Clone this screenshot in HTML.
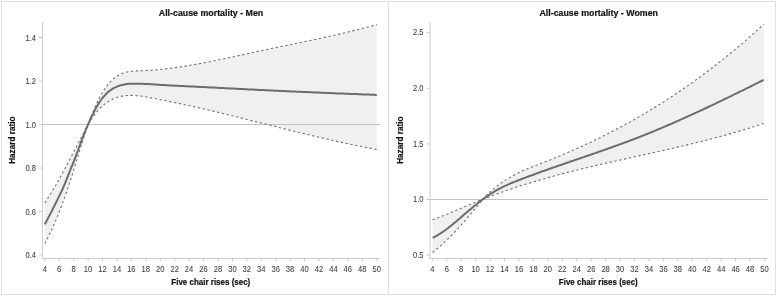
<!DOCTYPE html>
<html><head><meta charset="utf-8"><style>
html,body{margin:0;padding:0;background:#fff;}
body{width:777px;height:296px;overflow:hidden;}
svg{display:block;}
#w{width:777px;height:296px;will-change:transform;}
text{font-family:"Liberation Sans", sans-serif;}
.tk{font-size:8.8px;fill:#3c3c3c;stroke:#3c3c3c;stroke-width:0.06px;}
.ti{font-size:9.3px;font-weight:bold;fill:#111;stroke:#111;stroke-width:0.2px;}
.xl{font-size:8.4px;font-weight:bold;fill:#111;stroke:#111;stroke-width:0.2px;}
.yl{font-size:8.2px;}
</style></head><body>
<div id="w"><svg width="777" height="296" viewBox="0 0 777 296">
<rect x="1.5" y="1.5" width="774" height="293" fill="none" stroke="#e0e0e0" stroke-width="1"/>
<line x1="388.5" y1="1" x2="388.5" y2="295" stroke="#e0e0e0" stroke-width="1"/>
<path d="M44.8 202.8 L45.2 202.3 L45.5 201.7 L45.9 201.2 L46.3 200.7 L46.6 200.1 L47.0 199.5 L47.4 199.0 L47.7 198.4 L48.1 197.9 L48.4 197.3 L48.8 196.7 L49.2 196.1 L49.5 195.6 L49.9 195.0 L50.3 194.4 L50.6 193.8 L51.0 193.2 L51.4 192.6 L51.7 192.0 L52.1 191.4 L52.5 190.8 L52.8 190.2 L53.2 189.6 L53.6 188.9 L53.9 188.3 L54.3 187.7 L54.6 187.1 L55.0 186.5 L55.4 185.8 L55.7 185.2 L56.1 184.6 L56.5 183.9 L56.8 183.3 L57.2 182.6 L57.6 182.0 L57.9 181.3 L58.3 180.7 L58.7 180.0 L59.0 179.4 L59.4 178.7 L59.8 178.1 L60.1 177.4 L60.5 176.7 L60.8 176.1 L61.2 175.4 L61.6 174.7 L61.9 174.1 L62.3 173.4 L62.7 172.7 L63.0 172.0 L63.4 171.4 L63.8 170.7 L64.1 170.0 L64.5 169.3 L64.9 168.6 L65.2 167.9 L65.6 167.3 L66.0 166.6 L66.3 165.9 L66.7 165.2 L67.0 164.5 L67.4 163.8 L67.8 163.1 L68.1 162.4 L68.5 161.7 L68.9 161.0 L69.2 160.3 L69.6 159.6 L70.0 158.9 L70.3 158.2 L70.7 157.5 L71.1 156.8 L71.4 156.1 L71.8 155.4 L72.2 154.7 L72.5 154.0 L72.9 153.3 L73.2 152.6 L73.6 151.9 L74.0 151.2 L74.3 150.5 L74.7 149.8 L75.1 149.1 L75.4 148.4 L75.8 147.7 L76.2 147.0 L76.5 146.3 L76.9 145.6 L77.3 144.9 L77.6 144.2 L78.0 143.5 L78.4 142.8 L78.7 142.1 L79.1 141.4 L79.4 140.7 L79.8 140.0 L80.2 139.3 L80.5 138.6 L80.9 137.9 L81.3 137.2 L81.6 136.5 L82.0 135.8 L82.4 135.1 L82.7 134.4 L83.1 133.7 L83.5 133.0 L83.8 132.3 L84.2 131.7 L84.6 131.0 L84.9 130.3 L85.3 129.6 L85.6 128.9 L86.0 128.2 L86.4 127.6 L86.7 126.9 L87.1 126.2 L87.5 125.5 L87.8 124.9 L88.2 124.2 L90.6 117.7 L93.1 111.6 L95.5 106.0 L97.9 100.8 L100.3 96.2 L102.8 91.9 L105.2 88.2 L107.6 84.9 L110.0 82.1 L112.5 79.7 L114.9 77.6 L117.3 76.0 L119.7 74.6 L122.2 73.5 L124.6 72.6 L127.0 72.0 L129.4 71.5 L131.9 71.2 L134.3 71.0 L136.7 70.9 L139.1 70.8 L141.6 70.7 L144.0 70.6 L146.4 70.5 L148.8 70.3 L151.3 70.2 L153.7 70.0 L156.1 69.8 L158.5 69.6 L161.0 69.3 L163.4 69.1 L165.8 68.8 L168.2 68.5 L170.7 68.2 L173.1 67.9 L175.5 67.6 L177.9 67.2 L180.4 66.9 L182.8 66.5 L185.2 66.1 L187.6 65.7 L190.1 65.3 L192.5 64.9 L194.9 64.5 L197.3 64.1 L199.8 63.6 L202.2 63.2 L204.6 62.7 L207.0 62.2 L209.5 61.8 L211.9 61.3 L214.3 60.8 L216.7 60.3 L219.2 59.8 L221.6 59.3 L224.0 58.8 L226.4 58.2 L228.9 57.7 L231.3 57.2 L233.7 56.7 L236.1 56.2 L238.6 55.6 L241.0 55.1 L243.4 54.6 L245.8 54.0 L248.3 53.5 L250.7 53.0 L253.1 52.4 L255.5 51.9 L258.0 51.4 L260.4 50.9 L262.8 50.4 L265.2 49.8 L267.7 49.3 L270.1 48.8 L272.5 48.3 L274.9 47.8 L277.4 47.3 L279.8 46.8 L282.2 46.3 L284.6 45.8 L287.1 45.3 L289.5 44.8 L291.9 44.3 L294.3 43.8 L296.8 43.3 L299.2 42.8 L301.6 42.3 L304.0 41.8 L306.5 41.3 L308.9 40.8 L311.3 40.2 L313.7 39.7 L316.2 39.2 L318.6 38.7 L321.0 38.2 L323.4 37.6 L325.9 37.1 L328.3 36.6 L330.7 36.0 L333.1 35.5 L335.6 34.9 L338.0 34.4 L340.4 33.8 L342.8 33.3 L345.3 32.7 L347.7 32.1 L350.1 31.5 L352.5 30.9 L355.0 30.3 L357.4 29.7 L359.8 29.1 L362.2 28.5 L364.7 27.9 L367.1 27.2 L369.5 26.6 L371.9 25.9 L374.4 25.3 L376.8 24.6 L376.8 149.5 L374.4 149.1 L371.9 148.6 L369.5 148.1 L367.1 147.7 L364.7 147.2 L362.2 146.7 L359.8 146.2 L357.4 145.7 L355.0 145.2 L352.5 144.7 L350.1 144.2 L347.7 143.7 L345.3 143.2 L342.8 142.6 L340.4 142.1 L338.0 141.6 L335.6 141.0 L333.1 140.5 L330.7 139.9 L328.3 139.4 L325.9 138.8 L323.4 138.3 L321.0 137.7 L318.6 137.1 L316.2 136.5 L313.7 136.0 L311.3 135.4 L308.9 134.8 L306.5 134.2 L304.0 133.6 L301.6 133.0 L299.2 132.5 L296.8 131.9 L294.3 131.3 L291.9 130.7 L289.5 130.1 L287.1 129.5 L284.6 128.9 L282.2 128.3 L279.8 127.7 L277.4 127.1 L274.9 126.4 L272.5 125.8 L270.1 125.2 L267.7 124.6 L265.2 124.0 L262.8 123.4 L260.4 122.8 L258.0 122.2 L255.5 121.6 L253.1 121.0 L250.7 120.4 L248.3 119.8 L245.8 119.2 L243.4 118.5 L241.0 117.9 L238.6 117.3 L236.1 116.7 L233.7 116.1 L231.3 115.5 L228.9 115.0 L226.4 114.4 L224.0 113.8 L221.6 113.2 L219.2 112.6 L216.7 112.0 L214.3 111.4 L211.9 110.9 L209.5 110.3 L207.0 109.7 L204.6 109.2 L202.2 108.6 L199.8 108.0 L197.3 107.5 L194.9 106.9 L192.5 106.4 L190.1 105.8 L187.6 105.3 L185.2 104.8 L182.8 104.2 L180.4 103.7 L177.9 103.2 L175.5 102.7 L173.1 102.2 L170.7 101.7 L168.2 101.2 L165.8 100.7 L163.4 100.2 L161.0 99.7 L158.5 99.2 L156.1 98.8 L153.7 98.3 L151.3 97.9 L148.8 97.4 L146.4 97.0 L144.0 96.6 L141.6 96.2 L139.1 95.9 L136.7 95.7 L134.3 95.5 L131.9 95.4 L129.4 95.4 L127.0 95.5 L124.6 95.7 L122.2 96.1 L119.7 96.6 L117.3 97.3 L114.9 98.1 L112.5 99.2 L110.0 100.5 L107.6 102.0 L105.2 103.7 L102.8 105.7 L100.3 108.0 L97.9 110.6 L95.5 113.5 L93.1 116.7 L90.6 120.3 L88.2 124.2 L87.8 125.2 L87.5 126.3 L87.1 127.3 L86.7 128.4 L86.4 129.4 L86.0 130.5 L85.6 131.6 L85.3 132.7 L84.9 133.8 L84.6 134.9 L84.2 136.0 L83.8 137.2 L83.5 138.3 L83.1 139.5 L82.7 140.6 L82.4 141.8 L82.0 142.9 L81.6 144.1 L81.3 145.3 L80.9 146.5 L80.5 147.6 L80.2 148.8 L79.8 150.0 L79.4 151.2 L79.1 152.4 L78.7 153.6 L78.4 154.8 L78.0 156.0 L77.6 157.2 L77.3 158.4 L76.9 159.6 L76.5 160.8 L76.2 162.0 L75.8 163.2 L75.4 164.4 L75.1 165.6 L74.7 166.8 L74.3 168.0 L74.0 169.1 L73.6 170.3 L73.2 171.5 L72.9 172.7 L72.5 173.8 L72.2 175.0 L71.8 176.2 L71.4 177.3 L71.1 178.4 L70.7 179.6 L70.3 180.7 L70.0 181.8 L69.6 182.9 L69.2 184.1 L68.9 185.2 L68.5 186.3 L68.1 187.3 L67.8 188.4 L67.4 189.5 L67.0 190.6 L66.7 191.6 L66.3 192.7 L66.0 193.7 L65.6 194.8 L65.2 195.8 L64.9 196.9 L64.5 197.9 L64.1 198.9 L63.8 199.9 L63.4 200.9 L63.0 201.9 L62.7 202.9 L62.3 203.9 L61.9 204.9 L61.6 205.8 L61.2 206.8 L60.8 207.8 L60.5 208.7 L60.1 209.7 L59.8 210.6 L59.4 211.5 L59.0 212.5 L58.7 213.4 L58.3 214.3 L57.9 215.2 L57.6 216.1 L57.2 217.0 L56.8 217.9 L56.5 218.8 L56.1 219.6 L55.7 220.5 L55.4 221.4 L55.0 222.2 L54.6 223.1 L54.3 223.9 L53.9 224.8 L53.6 225.6 L53.2 226.4 L52.8 227.2 L52.5 228.0 L52.1 228.8 L51.7 229.6 L51.4 230.4 L51.0 231.2 L50.6 232.0 L50.3 232.8 L49.9 233.5 L49.5 234.3 L49.2 235.0 L48.8 235.8 L48.4 236.5 L48.1 237.2 L47.7 238.0 L47.4 238.7 L47.0 239.4 L46.6 240.1 L46.3 240.8 L45.9 241.5 L45.5 242.2 L45.2 242.9 L44.8 243.6 Z" fill="#f0f0f0" stroke="none"/>
<line x1="42" y1="124.5" x2="380" y2="124.5" stroke="#c2c2c2" stroke-width="1"/>
<path d="M44.8 202.8 L45.2 202.3 L45.5 201.7 L45.9 201.2 L46.3 200.7 L46.6 200.1 L47.0 199.5 L47.4 199.0 L47.7 198.4 L48.1 197.9 L48.4 197.3 L48.8 196.7 L49.2 196.1 L49.5 195.6 L49.9 195.0 L50.3 194.4 L50.6 193.8 L51.0 193.2 L51.4 192.6 L51.7 192.0 L52.1 191.4 L52.5 190.8 L52.8 190.2 L53.2 189.6 L53.6 188.9 L53.9 188.3 L54.3 187.7 L54.6 187.1 L55.0 186.5 L55.4 185.8 L55.7 185.2 L56.1 184.6 L56.5 183.9 L56.8 183.3 L57.2 182.6 L57.6 182.0 L57.9 181.3 L58.3 180.7 L58.7 180.0 L59.0 179.4 L59.4 178.7 L59.8 178.1 L60.1 177.4 L60.5 176.7 L60.8 176.1 L61.2 175.4 L61.6 174.7 L61.9 174.1 L62.3 173.4 L62.7 172.7 L63.0 172.0 L63.4 171.4 L63.8 170.7 L64.1 170.0 L64.5 169.3 L64.9 168.6 L65.2 167.9 L65.6 167.3 L66.0 166.6 L66.3 165.9 L66.7 165.2 L67.0 164.5 L67.4 163.8 L67.8 163.1 L68.1 162.4 L68.5 161.7 L68.9 161.0 L69.2 160.3 L69.6 159.6 L70.0 158.9 L70.3 158.2 L70.7 157.5 L71.1 156.8 L71.4 156.1 L71.8 155.4 L72.2 154.7 L72.5 154.0 L72.9 153.3 L73.2 152.6 L73.6 151.9 L74.0 151.2 L74.3 150.5 L74.7 149.8 L75.1 149.1 L75.4 148.4 L75.8 147.7 L76.2 147.0 L76.5 146.3 L76.9 145.6 L77.3 144.9 L77.6 144.2 L78.0 143.5 L78.4 142.8 L78.7 142.1 L79.1 141.4 L79.4 140.7 L79.8 140.0 L80.2 139.3 L80.5 138.6 L80.9 137.9 L81.3 137.2 L81.6 136.5 L82.0 135.8 L82.4 135.1 L82.7 134.4 L83.1 133.7 L83.5 133.0 L83.8 132.3 L84.2 131.7 L84.6 131.0 L84.9 130.3 L85.3 129.6 L85.6 128.9 L86.0 128.2 L86.4 127.6 L86.7 126.9 L87.1 126.2 L87.5 125.5 L87.8 124.9 L88.2 124.2 L90.6 117.7 L93.1 111.6 L95.5 106.0 L97.9 100.8 L100.3 96.2 L102.8 91.9 L105.2 88.2 L107.6 84.9 L110.0 82.1 L112.5 79.7 L114.9 77.6 L117.3 76.0 L119.7 74.6 L122.2 73.5 L124.6 72.6 L127.0 72.0 L129.4 71.5 L131.9 71.2 L134.3 71.0 L136.7 70.9 L139.1 70.8 L141.6 70.7 L144.0 70.6 L146.4 70.5 L148.8 70.3 L151.3 70.2 L153.7 70.0 L156.1 69.8 L158.5 69.6 L161.0 69.3 L163.4 69.1 L165.8 68.8 L168.2 68.5 L170.7 68.2 L173.1 67.9 L175.5 67.6 L177.9 67.2 L180.4 66.9 L182.8 66.5 L185.2 66.1 L187.6 65.7 L190.1 65.3 L192.5 64.9 L194.9 64.5 L197.3 64.1 L199.8 63.6 L202.2 63.2 L204.6 62.7 L207.0 62.2 L209.5 61.8 L211.9 61.3 L214.3 60.8 L216.7 60.3 L219.2 59.8 L221.6 59.3 L224.0 58.8 L226.4 58.2 L228.9 57.7 L231.3 57.2 L233.7 56.7 L236.1 56.2 L238.6 55.6 L241.0 55.1 L243.4 54.6 L245.8 54.0 L248.3 53.5 L250.7 53.0 L253.1 52.4 L255.5 51.9 L258.0 51.4 L260.4 50.9 L262.8 50.4 L265.2 49.8 L267.7 49.3 L270.1 48.8 L272.5 48.3 L274.9 47.8 L277.4 47.3 L279.8 46.8 L282.2 46.3 L284.6 45.8 L287.1 45.3 L289.5 44.8 L291.9 44.3 L294.3 43.8 L296.8 43.3 L299.2 42.8 L301.6 42.3 L304.0 41.8 L306.5 41.3 L308.9 40.8 L311.3 40.2 L313.7 39.7 L316.2 39.2 L318.6 38.7 L321.0 38.2 L323.4 37.6 L325.9 37.1 L328.3 36.6 L330.7 36.0 L333.1 35.5 L335.6 34.9 L338.0 34.4 L340.4 33.8 L342.8 33.3 L345.3 32.7 L347.7 32.1 L350.1 31.5 L352.5 30.9 L355.0 30.3 L357.4 29.7 L359.8 29.1 L362.2 28.5 L364.7 27.9 L367.1 27.2 L369.5 26.6 L371.9 25.9 L374.4 25.3 L376.8 24.6" fill="none" stroke="#6e6e6e" stroke-width="1.1" stroke-dasharray="2.3 2.6"/>
<path d="M44.8 243.6 L45.2 242.9 L45.5 242.2 L45.9 241.5 L46.3 240.8 L46.6 240.1 L47.0 239.4 L47.4 238.7 L47.7 238.0 L48.1 237.2 L48.4 236.5 L48.8 235.8 L49.2 235.0 L49.5 234.3 L49.9 233.5 L50.3 232.8 L50.6 232.0 L51.0 231.2 L51.4 230.4 L51.7 229.6 L52.1 228.8 L52.5 228.0 L52.8 227.2 L53.2 226.4 L53.6 225.6 L53.9 224.8 L54.3 223.9 L54.6 223.1 L55.0 222.2 L55.4 221.4 L55.7 220.5 L56.1 219.6 L56.5 218.8 L56.8 217.9 L57.2 217.0 L57.6 216.1 L57.9 215.2 L58.3 214.3 L58.7 213.4 L59.0 212.5 L59.4 211.5 L59.8 210.6 L60.1 209.7 L60.5 208.7 L60.8 207.8 L61.2 206.8 L61.6 205.8 L61.9 204.9 L62.3 203.9 L62.7 202.9 L63.0 201.9 L63.4 200.9 L63.8 199.9 L64.1 198.9 L64.5 197.9 L64.9 196.9 L65.2 195.8 L65.6 194.8 L66.0 193.7 L66.3 192.7 L66.7 191.6 L67.0 190.6 L67.4 189.5 L67.8 188.4 L68.1 187.3 L68.5 186.3 L68.9 185.2 L69.2 184.1 L69.6 182.9 L70.0 181.8 L70.3 180.7 L70.7 179.6 L71.1 178.4 L71.4 177.3 L71.8 176.2 L72.2 175.0 L72.5 173.8 L72.9 172.7 L73.2 171.5 L73.6 170.3 L74.0 169.1 L74.3 168.0 L74.7 166.8 L75.1 165.6 L75.4 164.4 L75.8 163.2 L76.2 162.0 L76.5 160.8 L76.9 159.6 L77.3 158.4 L77.6 157.2 L78.0 156.0 L78.4 154.8 L78.7 153.6 L79.1 152.4 L79.4 151.2 L79.8 150.0 L80.2 148.8 L80.5 147.6 L80.9 146.5 L81.3 145.3 L81.6 144.1 L82.0 142.9 L82.4 141.8 L82.7 140.6 L83.1 139.5 L83.5 138.3 L83.8 137.2 L84.2 136.0 L84.6 134.9 L84.9 133.8 L85.3 132.7 L85.6 131.6 L86.0 130.5 L86.4 129.4 L86.7 128.4 L87.1 127.3 L87.5 126.3 L87.8 125.2 L88.2 124.2 L90.6 120.3 L93.1 116.7 L95.5 113.5 L97.9 110.6 L100.3 108.0 L102.8 105.7 L105.2 103.7 L107.6 102.0 L110.0 100.5 L112.5 99.2 L114.9 98.1 L117.3 97.3 L119.7 96.6 L122.2 96.1 L124.6 95.7 L127.0 95.5 L129.4 95.4 L131.9 95.4 L134.3 95.5 L136.7 95.7 L139.1 95.9 L141.6 96.2 L144.0 96.6 L146.4 97.0 L148.8 97.4 L151.3 97.9 L153.7 98.3 L156.1 98.8 L158.5 99.2 L161.0 99.7 L163.4 100.2 L165.8 100.7 L168.2 101.2 L170.7 101.7 L173.1 102.2 L175.5 102.7 L177.9 103.2 L180.4 103.7 L182.8 104.2 L185.2 104.8 L187.6 105.3 L190.1 105.8 L192.5 106.4 L194.9 106.9 L197.3 107.5 L199.8 108.0 L202.2 108.6 L204.6 109.2 L207.0 109.7 L209.5 110.3 L211.9 110.9 L214.3 111.4 L216.7 112.0 L219.2 112.6 L221.6 113.2 L224.0 113.8 L226.4 114.4 L228.9 115.0 L231.3 115.5 L233.7 116.1 L236.1 116.7 L238.6 117.3 L241.0 117.9 L243.4 118.5 L245.8 119.2 L248.3 119.8 L250.7 120.4 L253.1 121.0 L255.5 121.6 L258.0 122.2 L260.4 122.8 L262.8 123.4 L265.2 124.0 L267.7 124.6 L270.1 125.2 L272.5 125.8 L274.9 126.4 L277.4 127.1 L279.8 127.7 L282.2 128.3 L284.6 128.9 L287.1 129.5 L289.5 130.1 L291.9 130.7 L294.3 131.3 L296.8 131.9 L299.2 132.5 L301.6 133.0 L304.0 133.6 L306.5 134.2 L308.9 134.8 L311.3 135.4 L313.7 136.0 L316.2 136.5 L318.6 137.1 L321.0 137.7 L323.4 138.3 L325.9 138.8 L328.3 139.4 L330.7 139.9 L333.1 140.5 L335.6 141.0 L338.0 141.6 L340.4 142.1 L342.8 142.6 L345.3 143.2 L347.7 143.7 L350.1 144.2 L352.5 144.7 L355.0 145.2 L357.4 145.7 L359.8 146.2 L362.2 146.7 L364.7 147.2 L367.1 147.7 L369.5 148.1 L371.9 148.6 L374.4 149.1 L376.8 149.5" fill="none" stroke="#6e6e6e" stroke-width="1.1" stroke-dasharray="2.3 2.6"/>
<path d="M44.8 224.4 L45.9 222.3 L47.0 220.2 L48.1 218.1 L49.2 215.9 L50.4 213.8 L51.5 211.6 L52.6 209.4 L53.7 207.2 L54.8 205.0 L55.9 202.8 L57.0 200.6 L58.1 198.4 L59.2 196.1 L60.3 193.8 L61.5 191.4 L62.6 189.0 L63.7 186.4 L64.8 183.8 L65.9 181.1 L67.0 178.4 L68.1 175.7 L69.2 172.9 L70.3 170.0 L71.4 167.2 L72.6 164.4 L73.7 161.6 L74.8 158.8 L75.9 155.9 L77.0 153.0 L78.1 150.0 L79.2 147.0 L80.3 144.0 L81.4 141.0 L82.6 138.0 L83.7 135.1 L84.8 132.3 L85.9 129.5 L87.0 126.9 L88.1 124.4 L89.2 122.0 L90.3 119.6 L91.4 117.2 L92.5 114.9 L93.7 112.6 L94.8 110.4 L95.9 108.3 L97.0 106.3 L98.1 104.4 L99.2 102.6 L100.3 101.0 L101.4 99.5 L102.5 98.0 L103.6 96.7 L104.8 95.4 L105.9 94.2 L107.0 93.0 L108.1 92.0 L109.2 91.1 L110.3 90.3 L111.4 89.6 L112.5 88.9 L113.6 88.2 L114.8 87.6 L115.9 87.1 L117.0 86.6 L118.1 86.1 L119.2 85.7 L120.3 85.4 L121.4 85.1 L122.5 84.9 L123.6 84.7 L124.7 84.5 L125.9 84.3 L127.0 84.1 L128.1 84.0 L129.2 83.8 L130.3 83.8 L131.4 83.7 L132.5 83.7 L133.6 83.7 L134.7 83.7 L135.9 83.7 L137.0 83.7 L138.1 83.8 L139.2 83.8 L140.3 83.8 L141.4 83.8 L142.5 83.8 L143.6 83.9 L144.7 83.9 L145.8 83.9 L147.0 84.0 L148.1 84.0 L149.2 84.1 L150.3 84.2 L151.4 84.2 L152.5 84.3 L153.6 84.4 L154.7 84.5 L155.8 84.6 L156.9 84.7 L158.1 84.7 L159.2 84.8 L160.3 84.9 L161.4 84.9 L162.5 85.0 L163.6 85.1 L164.7 85.1 L165.8 85.2 L166.9 85.3 L168.1 85.3 L169.2 85.4 L170.3 85.4 L171.4 85.5 L172.5 85.5 L173.6 85.6 L174.7 85.7 L175.8 85.7 L176.9 85.8 L178.0 85.8 L179.2 85.9 L180.3 85.9 L181.4 86.0 L182.5 86.0 L183.6 86.1 L184.7 86.2 L185.8 86.2 L186.9 86.3 L188.0 86.3 L189.1 86.4 L190.3 86.4 L191.4 86.5 L192.5 86.5 L193.6 86.6 L194.7 86.6 L195.8 86.7 L196.9 86.7 L198.0 86.8 L199.1 86.9 L200.3 86.9 L201.4 87.0 L202.5 87.0 L203.6 87.1 L204.7 87.1 L205.8 87.2 L206.9 87.3 L208.0 87.3 L209.1 87.4 L210.2 87.4 L211.4 87.5 L212.5 87.5 L213.6 87.6 L214.7 87.6 L215.8 87.7 L216.9 87.8 L218.0 87.8 L219.1 87.9 L220.2 87.9 L221.3 88.0 L222.5 88.0 L223.6 88.1 L224.7 88.2 L225.8 88.2 L226.9 88.3 L228.0 88.3 L229.1 88.4 L230.2 88.4 L231.3 88.5 L232.5 88.6 L233.6 88.6 L234.7 88.7 L235.8 88.7 L236.9 88.8 L238.0 88.8 L239.1 88.9 L240.2 89.0 L241.3 89.0 L242.4 89.1 L243.6 89.1 L244.7 89.2 L245.8 89.2 L246.9 89.3 L248.0 89.4 L249.1 89.4 L250.2 89.5 L251.3 89.5 L252.4 89.6 L253.5 89.6 L254.7 89.7 L255.8 89.7 L256.9 89.8 L258.0 89.9 L259.1 89.9 L260.2 90.0 L261.3 90.0 L262.4 90.1 L263.5 90.1 L264.7 90.2 L265.8 90.2 L266.9 90.3 L268.0 90.3 L269.1 90.4 L270.2 90.4 L271.3 90.5 L272.4 90.6 L273.5 90.6 L274.6 90.7 L275.8 90.7 L276.9 90.8 L278.0 90.8 L279.1 90.9 L280.2 90.9 L281.3 91.0 L282.4 91.0 L283.5 91.1 L284.6 91.1 L285.7 91.2 L286.9 91.2 L288.0 91.3 L289.1 91.3 L290.2 91.4 L291.3 91.4 L292.4 91.5 L293.5 91.5 L294.6 91.6 L295.7 91.6 L296.9 91.7 L298.0 91.7 L299.1 91.8 L300.2 91.8 L301.3 91.8 L302.4 91.9 L303.5 91.9 L304.6 92.0 L305.7 92.0 L306.8 92.1 L308.0 92.1 L309.1 92.2 L310.2 92.2 L311.3 92.3 L312.4 92.3 L313.5 92.4 L314.6 92.4 L315.7 92.5 L316.8 92.5 L318.0 92.6 L319.1 92.6 L320.2 92.7 L321.3 92.7 L322.4 92.8 L323.5 92.8 L324.6 92.8 L325.7 92.9 L326.8 92.9 L327.9 93.0 L329.1 93.0 L330.2 93.1 L331.3 93.1 L332.4 93.2 L333.5 93.2 L334.6 93.3 L335.7 93.3 L336.8 93.4 L337.9 93.4 L339.0 93.4 L340.2 93.5 L341.3 93.5 L342.4 93.6 L343.5 93.6 L344.6 93.7 L345.7 93.7 L346.8 93.8 L347.9 93.8 L349.0 93.8 L350.2 93.9 L351.3 93.9 L352.4 94.0 L353.5 94.0 L354.6 94.1 L355.7 94.1 L356.8 94.1 L357.9 94.2 L359.0 94.2 L360.1 94.3 L361.3 94.3 L362.4 94.4 L363.5 94.4 L364.6 94.4 L365.7 94.5 L366.8 94.5 L367.9 94.6 L369.0 94.6 L370.1 94.7 L371.2 94.7 L372.4 94.7 L373.5 94.8 L374.6 94.8 L375.7 94.9 L376.8 94.9" fill="none" stroke="#6c6c6c" stroke-width="2.0" stroke-linejoin="round"/>
<line x1="42.5" y1="22" x2="42.5" y2="259" stroke="#cbccd0" stroke-width="1"/>
<line x1="42" y1="258.5" x2="380" y2="258.5" stroke="#cbccd0" stroke-width="1"/>
<line x1="44.80" y1="259" x2="44.80" y2="261.5" stroke="#cbccd0" stroke-width="1"/>
<text transform="translate(44.80,271.8) scale(0.865,1)" text-anchor="middle" class="tk">4</text>
<line x1="59.23" y1="259" x2="59.23" y2="261.5" stroke="#cbccd0" stroke-width="1"/>
<text transform="translate(59.23,271.8) scale(0.865,1)" text-anchor="middle" class="tk">6</text>
<line x1="73.66" y1="259" x2="73.66" y2="261.5" stroke="#cbccd0" stroke-width="1"/>
<text transform="translate(73.66,271.8) scale(0.865,1)" text-anchor="middle" class="tk">8</text>
<line x1="88.09" y1="259" x2="88.09" y2="261.5" stroke="#cbccd0" stroke-width="1"/>
<text transform="translate(88.09,271.8) scale(0.865,1)" text-anchor="middle" class="tk">10</text>
<line x1="102.52" y1="259" x2="102.52" y2="261.5" stroke="#cbccd0" stroke-width="1"/>
<text transform="translate(102.52,271.8) scale(0.865,1)" text-anchor="middle" class="tk">12</text>
<line x1="116.95" y1="259" x2="116.95" y2="261.5" stroke="#cbccd0" stroke-width="1"/>
<text transform="translate(116.95,271.8) scale(0.865,1)" text-anchor="middle" class="tk">14</text>
<line x1="131.38" y1="259" x2="131.38" y2="261.5" stroke="#cbccd0" stroke-width="1"/>
<text transform="translate(131.38,271.8) scale(0.865,1)" text-anchor="middle" class="tk">16</text>
<line x1="145.81" y1="259" x2="145.81" y2="261.5" stroke="#cbccd0" stroke-width="1"/>
<text transform="translate(145.81,271.8) scale(0.865,1)" text-anchor="middle" class="tk">18</text>
<line x1="160.24" y1="259" x2="160.24" y2="261.5" stroke="#cbccd0" stroke-width="1"/>
<text transform="translate(160.24,271.8) scale(0.865,1)" text-anchor="middle" class="tk">20</text>
<line x1="174.67" y1="259" x2="174.67" y2="261.5" stroke="#cbccd0" stroke-width="1"/>
<text transform="translate(174.67,271.8) scale(0.865,1)" text-anchor="middle" class="tk">22</text>
<line x1="189.10" y1="259" x2="189.10" y2="261.5" stroke="#cbccd0" stroke-width="1"/>
<text transform="translate(189.10,271.8) scale(0.865,1)" text-anchor="middle" class="tk">24</text>
<line x1="203.53" y1="259" x2="203.53" y2="261.5" stroke="#cbccd0" stroke-width="1"/>
<text transform="translate(203.53,271.8) scale(0.865,1)" text-anchor="middle" class="tk">26</text>
<line x1="217.96" y1="259" x2="217.96" y2="261.5" stroke="#cbccd0" stroke-width="1"/>
<text transform="translate(217.96,271.8) scale(0.865,1)" text-anchor="middle" class="tk">28</text>
<line x1="232.39" y1="259" x2="232.39" y2="261.5" stroke="#cbccd0" stroke-width="1"/>
<text transform="translate(232.39,271.8) scale(0.865,1)" text-anchor="middle" class="tk">30</text>
<line x1="246.82" y1="259" x2="246.82" y2="261.5" stroke="#cbccd0" stroke-width="1"/>
<text transform="translate(246.82,271.8) scale(0.865,1)" text-anchor="middle" class="tk">32</text>
<line x1="261.25" y1="259" x2="261.25" y2="261.5" stroke="#cbccd0" stroke-width="1"/>
<text transform="translate(261.25,271.8) scale(0.865,1)" text-anchor="middle" class="tk">34</text>
<line x1="275.68" y1="259" x2="275.68" y2="261.5" stroke="#cbccd0" stroke-width="1"/>
<text transform="translate(275.68,271.8) scale(0.865,1)" text-anchor="middle" class="tk">36</text>
<line x1="290.11" y1="259" x2="290.11" y2="261.5" stroke="#cbccd0" stroke-width="1"/>
<text transform="translate(290.11,271.8) scale(0.865,1)" text-anchor="middle" class="tk">38</text>
<line x1="304.54" y1="259" x2="304.54" y2="261.5" stroke="#cbccd0" stroke-width="1"/>
<text transform="translate(304.54,271.8) scale(0.865,1)" text-anchor="middle" class="tk">40</text>
<line x1="318.97" y1="259" x2="318.97" y2="261.5" stroke="#cbccd0" stroke-width="1"/>
<text transform="translate(318.97,271.8) scale(0.865,1)" text-anchor="middle" class="tk">42</text>
<line x1="333.40" y1="259" x2="333.40" y2="261.5" stroke="#cbccd0" stroke-width="1"/>
<text transform="translate(333.40,271.8) scale(0.865,1)" text-anchor="middle" class="tk">44</text>
<line x1="347.83" y1="259" x2="347.83" y2="261.5" stroke="#cbccd0" stroke-width="1"/>
<text transform="translate(347.83,271.8) scale(0.865,1)" text-anchor="middle" class="tk">46</text>
<line x1="362.26" y1="259" x2="362.26" y2="261.5" stroke="#cbccd0" stroke-width="1"/>
<text transform="translate(362.26,271.8) scale(0.865,1)" text-anchor="middle" class="tk">48</text>
<line x1="376.69" y1="259" x2="376.69" y2="261.5" stroke="#cbccd0" stroke-width="1"/>
<text transform="translate(376.69,271.8) scale(0.865,1)" text-anchor="middle" class="tk">50</text>
<line x1="39" y1="255.00" x2="42" y2="255.00" stroke="#cbccd0" stroke-width="1"/>
<text transform="translate(36,258.30) scale(0.865,1)" text-anchor="end" class="tk">0.4</text>
<line x1="39" y1="211.50" x2="42" y2="211.50" stroke="#cbccd0" stroke-width="1"/>
<text transform="translate(36,214.80) scale(0.865,1)" text-anchor="end" class="tk">0.6</text>
<line x1="39" y1="168.00" x2="42" y2="168.00" stroke="#cbccd0" stroke-width="1"/>
<text transform="translate(36,171.30) scale(0.865,1)" text-anchor="end" class="tk">0.8</text>
<line x1="39" y1="124.50" x2="42" y2="124.50" stroke="#cbccd0" stroke-width="1"/>
<text transform="translate(36,127.80) scale(0.865,1)" text-anchor="end" class="tk">1.0</text>
<line x1="39" y1="81.00" x2="42" y2="81.00" stroke="#cbccd0" stroke-width="1"/>
<text transform="translate(36,84.30) scale(0.865,1)" text-anchor="end" class="tk">1.2</text>
<line x1="39" y1="37.50" x2="42" y2="37.50" stroke="#cbccd0" stroke-width="1"/>
<text transform="translate(36,40.80) scale(0.865,1)" text-anchor="end" class="tk">1.4</text>
<path d="M432.6 219.7 L433.0 219.5 L433.4 219.4 L433.9 219.2 L434.3 219.1 L434.7 218.9 L435.1 218.8 L435.6 218.6 L436.0 218.5 L436.4 218.3 L436.8 218.2 L437.2 218.0 L437.7 217.9 L438.1 217.7 L438.5 217.6 L438.9 217.4 L439.3 217.2 L439.8 217.1 L440.2 216.9 L440.6 216.8 L441.0 216.6 L441.5 216.4 L441.9 216.3 L442.3 216.1 L442.7 215.9 L443.1 215.8 L443.6 215.6 L444.0 215.4 L444.4 215.3 L444.8 215.1 L445.3 214.9 L445.7 214.7 L446.1 214.6 L446.5 214.4 L446.9 214.2 L447.4 214.1 L447.8 213.9 L448.2 213.7 L448.6 213.5 L449.1 213.4 L449.5 213.2 L449.9 213.0 L450.3 212.8 L450.7 212.7 L451.2 212.5 L451.6 212.3 L452.0 212.1 L452.4 212.0 L452.8 211.8 L453.3 211.6 L453.7 211.4 L454.1 211.2 L454.5 211.1 L455.0 210.9 L455.4 210.7 L455.8 210.5 L456.2 210.3 L456.6 210.2 L457.1 210.0 L457.5 209.8 L457.9 209.6 L458.3 209.4 L458.8 209.3 L459.2 209.1 L459.6 208.9 L460.0 208.7 L460.4 208.5 L460.9 208.3 L461.3 208.2 L461.7 208.0 L462.1 207.8 L462.6 207.6 L463.0 207.4 L463.4 207.3 L463.8 207.1 L464.2 206.9 L464.7 206.7 L465.1 206.5 L465.5 206.3 L465.9 206.2 L466.3 206.0 L466.8 205.8 L467.2 205.6 L467.6 205.4 L468.0 205.3 L468.5 205.1 L468.9 204.9 L469.3 204.7 L469.7 204.5 L470.1 204.4 L470.6 204.2 L471.0 204.0 L471.4 203.8 L471.8 203.6 L472.3 203.5 L472.7 203.3 L473.1 203.1 L473.5 202.9 L473.9 202.8 L474.4 202.6 L474.8 202.4 L475.2 202.2 L475.6 202.1 L476.1 201.9 L476.5 201.7 L476.9 201.5 L477.3 201.4 L477.7 201.2 L478.2 201.0 L478.6 200.9 L479.0 200.7 L479.4 200.5 L479.8 200.4 L480.3 200.2 L480.7 200.0 L481.1 199.9 L481.5 199.7 L482.0 199.5 L482.4 199.4 L482.8 199.2 L485.2 196.7 L487.5 194.4 L489.9 192.2 L492.2 190.1 L494.6 188.1 L497.0 186.2 L499.3 184.4 L501.7 182.7 L504.0 181.1 L506.4 179.6 L508.8 178.2 L511.1 176.8 L513.5 175.5 L515.8 174.2 L518.2 173.0 L520.6 171.9 L522.9 170.8 L525.3 169.8 L527.6 168.8 L530.0 167.8 L532.4 166.8 L534.7 165.9 L537.1 165.0 L539.5 164.0 L541.8 163.1 L544.2 162.2 L546.5 161.3 L548.9 160.3 L551.3 159.4 L553.6 158.5 L556.0 157.5 L558.3 156.5 L560.7 155.5 L563.1 154.6 L565.4 153.6 L567.8 152.5 L570.1 151.5 L572.5 150.5 L574.9 149.4 L577.2 148.4 L579.6 147.3 L581.9 146.3 L584.3 145.2 L586.7 144.1 L589.0 143.0 L591.4 141.9 L593.7 140.7 L596.1 139.6 L598.5 138.4 L600.8 137.3 L603.2 136.1 L605.5 134.9 L607.9 133.7 L610.3 132.5 L612.6 131.3 L615.0 130.1 L617.3 128.8 L619.7 127.6 L622.1 126.3 L624.4 125.0 L626.8 123.7 L629.2 122.4 L631.5 121.1 L633.9 119.8 L636.2 118.4 L638.6 117.1 L641.0 115.7 L643.3 114.3 L645.7 112.9 L648.0 111.5 L650.4 110.1 L652.8 108.6 L655.1 107.2 L657.5 105.7 L659.8 104.3 L662.2 102.8 L664.6 101.3 L666.9 99.7 L669.3 98.2 L671.6 96.7 L674.0 95.1 L676.4 93.5 L678.7 91.9 L681.1 90.3 L683.4 88.7 L685.8 87.1 L688.2 85.4 L690.5 83.8 L692.9 82.1 L695.2 80.4 L697.6 78.7 L700.0 77.0 L702.3 75.2 L704.7 73.5 L707.0 71.7 L709.4 69.9 L711.8 68.1 L714.1 66.3 L716.5 64.5 L718.9 62.6 L721.2 60.8 L723.6 58.9 L725.9 57.0 L728.3 55.1 L730.7 53.1 L733.0 51.2 L735.4 49.2 L737.7 47.3 L740.1 45.3 L742.5 43.3 L744.8 41.2 L747.2 39.2 L749.5 37.1 L751.9 35.0 L754.3 32.9 L756.6 30.8 L759.0 28.7 L761.3 26.5 L763.7 24.4 L763.7 123.4 L761.3 124.2 L759.0 125.0 L756.6 125.7 L754.3 126.5 L751.9 127.2 L749.5 128.0 L747.2 128.7 L744.8 129.4 L742.5 130.1 L740.1 130.9 L737.7 131.6 L735.4 132.2 L733.0 132.9 L730.7 133.6 L728.3 134.3 L725.9 134.9 L723.6 135.6 L721.2 136.2 L718.9 136.9 L716.5 137.5 L714.1 138.1 L711.8 138.7 L709.4 139.4 L707.0 140.0 L704.7 140.6 L702.3 141.2 L700.0 141.8 L697.6 142.3 L695.2 142.9 L692.9 143.5 L690.5 144.1 L688.2 144.6 L685.8 145.2 L683.4 145.8 L681.1 146.3 L678.7 146.9 L676.4 147.4 L674.0 148.0 L671.6 148.5 L669.3 149.1 L666.9 149.6 L664.6 150.1 L662.2 150.7 L659.8 151.2 L657.5 151.7 L655.1 152.3 L652.8 152.8 L650.4 153.3 L648.0 153.8 L645.7 154.4 L643.3 154.9 L641.0 155.4 L638.6 155.9 L636.2 156.4 L633.9 157.0 L631.5 157.5 L629.2 158.0 L626.8 158.5 L624.4 159.1 L622.1 159.6 L619.7 160.1 L617.3 160.6 L615.0 161.2 L612.6 161.7 L610.3 162.2 L607.9 162.8 L605.5 163.3 L603.2 163.8 L600.8 164.4 L598.5 164.9 L596.1 165.5 L593.7 166.0 L591.4 166.6 L589.0 167.1 L586.7 167.7 L584.3 168.3 L581.9 168.9 L579.6 169.4 L577.2 170.0 L574.9 170.6 L572.5 171.2 L570.1 171.8 L567.8 172.4 L565.4 173.0 L563.1 173.6 L560.7 174.2 L558.3 174.8 L556.0 175.5 L553.6 176.1 L551.3 176.8 L548.9 177.4 L546.5 178.1 L544.2 178.7 L541.8 179.4 L539.5 180.1 L537.1 180.8 L534.7 181.5 L532.4 182.2 L530.0 182.9 L527.6 183.6 L525.3 184.3 L522.9 185.1 L520.6 185.8 L518.2 186.6 L515.8 187.3 L513.5 188.1 L511.1 188.9 L508.8 189.7 L506.4 190.5 L504.0 191.3 L501.7 192.2 L499.3 193.0 L497.0 193.9 L494.6 194.7 L492.2 195.6 L489.9 196.5 L487.5 197.4 L485.2 198.3 L482.8 199.2 L482.4 199.7 L482.0 200.3 L481.5 200.8 L481.1 201.3 L480.7 201.9 L480.3 202.4 L479.8 202.9 L479.4 203.4 L479.0 204.0 L478.6 204.5 L478.2 205.0 L477.7 205.5 L477.3 206.0 L476.9 206.6 L476.5 207.1 L476.1 207.6 L475.6 208.1 L475.2 208.6 L474.8 209.1 L474.4 209.7 L473.9 210.2 L473.5 210.7 L473.1 211.2 L472.7 211.7 L472.3 212.2 L471.8 212.7 L471.4 213.2 L471.0 213.7 L470.6 214.2 L470.1 214.7 L469.7 215.2 L469.3 215.7 L468.9 216.2 L468.5 216.7 L468.0 217.2 L467.6 217.7 L467.2 218.2 L466.8 218.7 L466.3 219.1 L465.9 219.6 L465.5 220.1 L465.1 220.6 L464.7 221.1 L464.2 221.6 L463.8 222.0 L463.4 222.5 L463.0 223.0 L462.6 223.5 L462.1 223.9 L461.7 224.4 L461.3 224.9 L460.9 225.3 L460.4 225.8 L460.0 226.3 L459.6 226.7 L459.2 227.2 L458.8 227.7 L458.3 228.1 L457.9 228.6 L457.5 229.0 L457.1 229.5 L456.6 229.9 L456.2 230.4 L455.8 230.8 L455.4 231.3 L455.0 231.7 L454.5 232.2 L454.1 232.6 L453.7 233.0 L453.3 233.5 L452.8 233.9 L452.4 234.4 L452.0 234.8 L451.6 235.2 L451.2 235.6 L450.7 236.1 L450.3 236.5 L449.9 236.9 L449.5 237.3 L449.1 237.8 L448.6 238.2 L448.2 238.6 L447.8 239.0 L447.4 239.4 L446.9 239.8 L446.5 240.2 L446.1 240.6 L445.7 241.0 L445.3 241.4 L444.8 241.8 L444.4 242.2 L444.0 242.6 L443.6 243.0 L443.1 243.4 L442.7 243.8 L442.3 244.2 L441.9 244.6 L441.5 245.0 L441.0 245.4 L440.6 245.7 L440.2 246.1 L439.8 246.5 L439.3 246.9 L438.9 247.2 L438.5 247.6 L438.1 248.0 L437.7 248.3 L437.2 248.7 L436.8 249.0 L436.4 249.4 L436.0 249.8 L435.6 250.1 L435.1 250.5 L434.7 250.8 L434.3 251.1 L433.9 251.5 L433.4 251.8 L433.0 252.2 L432.6 252.5 Z" fill="#f0f0f0" stroke="none"/>
<line x1="429.5" y1="199.5" x2="767.5" y2="199.5" stroke="#c2c2c2" stroke-width="1"/>
<path d="M432.6 219.7 L433.0 219.5 L433.4 219.4 L433.9 219.2 L434.3 219.1 L434.7 218.9 L435.1 218.8 L435.6 218.6 L436.0 218.5 L436.4 218.3 L436.8 218.2 L437.2 218.0 L437.7 217.9 L438.1 217.7 L438.5 217.6 L438.9 217.4 L439.3 217.2 L439.8 217.1 L440.2 216.9 L440.6 216.8 L441.0 216.6 L441.5 216.4 L441.9 216.3 L442.3 216.1 L442.7 215.9 L443.1 215.8 L443.6 215.6 L444.0 215.4 L444.4 215.3 L444.8 215.1 L445.3 214.9 L445.7 214.7 L446.1 214.6 L446.5 214.4 L446.9 214.2 L447.4 214.1 L447.8 213.9 L448.2 213.7 L448.6 213.5 L449.1 213.4 L449.5 213.2 L449.9 213.0 L450.3 212.8 L450.7 212.7 L451.2 212.5 L451.6 212.3 L452.0 212.1 L452.4 212.0 L452.8 211.8 L453.3 211.6 L453.7 211.4 L454.1 211.2 L454.5 211.1 L455.0 210.9 L455.4 210.7 L455.8 210.5 L456.2 210.3 L456.6 210.2 L457.1 210.0 L457.5 209.8 L457.9 209.6 L458.3 209.4 L458.8 209.3 L459.2 209.1 L459.6 208.9 L460.0 208.7 L460.4 208.5 L460.9 208.3 L461.3 208.2 L461.7 208.0 L462.1 207.8 L462.6 207.6 L463.0 207.4 L463.4 207.3 L463.8 207.1 L464.2 206.9 L464.7 206.7 L465.1 206.5 L465.5 206.3 L465.9 206.2 L466.3 206.0 L466.8 205.8 L467.2 205.6 L467.6 205.4 L468.0 205.3 L468.5 205.1 L468.9 204.9 L469.3 204.7 L469.7 204.5 L470.1 204.4 L470.6 204.2 L471.0 204.0 L471.4 203.8 L471.8 203.6 L472.3 203.5 L472.7 203.3 L473.1 203.1 L473.5 202.9 L473.9 202.8 L474.4 202.6 L474.8 202.4 L475.2 202.2 L475.6 202.1 L476.1 201.9 L476.5 201.7 L476.9 201.5 L477.3 201.4 L477.7 201.2 L478.2 201.0 L478.6 200.9 L479.0 200.7 L479.4 200.5 L479.8 200.4 L480.3 200.2 L480.7 200.0 L481.1 199.9 L481.5 199.7 L482.0 199.5 L482.4 199.4 L482.8 199.2 L485.2 196.7 L487.5 194.4 L489.9 192.2 L492.2 190.1 L494.6 188.1 L497.0 186.2 L499.3 184.4 L501.7 182.7 L504.0 181.1 L506.4 179.6 L508.8 178.2 L511.1 176.8 L513.5 175.5 L515.8 174.2 L518.2 173.0 L520.6 171.9 L522.9 170.8 L525.3 169.8 L527.6 168.8 L530.0 167.8 L532.4 166.8 L534.7 165.9 L537.1 165.0 L539.5 164.0 L541.8 163.1 L544.2 162.2 L546.5 161.3 L548.9 160.3 L551.3 159.4 L553.6 158.5 L556.0 157.5 L558.3 156.5 L560.7 155.5 L563.1 154.6 L565.4 153.6 L567.8 152.5 L570.1 151.5 L572.5 150.5 L574.9 149.4 L577.2 148.4 L579.6 147.3 L581.9 146.3 L584.3 145.2 L586.7 144.1 L589.0 143.0 L591.4 141.9 L593.7 140.7 L596.1 139.6 L598.5 138.4 L600.8 137.3 L603.2 136.1 L605.5 134.9 L607.9 133.7 L610.3 132.5 L612.6 131.3 L615.0 130.1 L617.3 128.8 L619.7 127.6 L622.1 126.3 L624.4 125.0 L626.8 123.7 L629.2 122.4 L631.5 121.1 L633.9 119.8 L636.2 118.4 L638.6 117.1 L641.0 115.7 L643.3 114.3 L645.7 112.9 L648.0 111.5 L650.4 110.1 L652.8 108.6 L655.1 107.2 L657.5 105.7 L659.8 104.3 L662.2 102.8 L664.6 101.3 L666.9 99.7 L669.3 98.2 L671.6 96.7 L674.0 95.1 L676.4 93.5 L678.7 91.9 L681.1 90.3 L683.4 88.7 L685.8 87.1 L688.2 85.4 L690.5 83.8 L692.9 82.1 L695.2 80.4 L697.6 78.7 L700.0 77.0 L702.3 75.2 L704.7 73.5 L707.0 71.7 L709.4 69.9 L711.8 68.1 L714.1 66.3 L716.5 64.5 L718.9 62.6 L721.2 60.8 L723.6 58.9 L725.9 57.0 L728.3 55.1 L730.7 53.1 L733.0 51.2 L735.4 49.2 L737.7 47.3 L740.1 45.3 L742.5 43.3 L744.8 41.2 L747.2 39.2 L749.5 37.1 L751.9 35.0 L754.3 32.9 L756.6 30.8 L759.0 28.7 L761.3 26.5 L763.7 24.4" fill="none" stroke="#6e6e6e" stroke-width="1.1" stroke-dasharray="2.3 2.6"/>
<path d="M432.6 252.5 L433.0 252.2 L433.4 251.8 L433.9 251.5 L434.3 251.1 L434.7 250.8 L435.1 250.5 L435.6 250.1 L436.0 249.8 L436.4 249.4 L436.8 249.0 L437.2 248.7 L437.7 248.3 L438.1 248.0 L438.5 247.6 L438.9 247.2 L439.3 246.9 L439.8 246.5 L440.2 246.1 L440.6 245.7 L441.0 245.4 L441.5 245.0 L441.9 244.6 L442.3 244.2 L442.7 243.8 L443.1 243.4 L443.6 243.0 L444.0 242.6 L444.4 242.2 L444.8 241.8 L445.3 241.4 L445.7 241.0 L446.1 240.6 L446.5 240.2 L446.9 239.8 L447.4 239.4 L447.8 239.0 L448.2 238.6 L448.6 238.2 L449.1 237.8 L449.5 237.3 L449.9 236.9 L450.3 236.5 L450.7 236.1 L451.2 235.6 L451.6 235.2 L452.0 234.8 L452.4 234.4 L452.8 233.9 L453.3 233.5 L453.7 233.0 L454.1 232.6 L454.5 232.2 L455.0 231.7 L455.4 231.3 L455.8 230.8 L456.2 230.4 L456.6 229.9 L457.1 229.5 L457.5 229.0 L457.9 228.6 L458.3 228.1 L458.8 227.7 L459.2 227.2 L459.6 226.7 L460.0 226.3 L460.4 225.8 L460.9 225.3 L461.3 224.9 L461.7 224.4 L462.1 223.9 L462.6 223.5 L463.0 223.0 L463.4 222.5 L463.8 222.0 L464.2 221.6 L464.7 221.1 L465.1 220.6 L465.5 220.1 L465.9 219.6 L466.3 219.1 L466.8 218.7 L467.2 218.2 L467.6 217.7 L468.0 217.2 L468.5 216.7 L468.9 216.2 L469.3 215.7 L469.7 215.2 L470.1 214.7 L470.6 214.2 L471.0 213.7 L471.4 213.2 L471.8 212.7 L472.3 212.2 L472.7 211.7 L473.1 211.2 L473.5 210.7 L473.9 210.2 L474.4 209.7 L474.8 209.1 L475.2 208.6 L475.6 208.1 L476.1 207.6 L476.5 207.1 L476.9 206.6 L477.3 206.0 L477.7 205.5 L478.2 205.0 L478.6 204.5 L479.0 204.0 L479.4 203.4 L479.8 202.9 L480.3 202.4 L480.7 201.9 L481.1 201.3 L481.5 200.8 L482.0 200.3 L482.4 199.7 L482.8 199.2 L485.2 198.3 L487.5 197.4 L489.9 196.5 L492.2 195.6 L494.6 194.7 L497.0 193.9 L499.3 193.0 L501.7 192.2 L504.0 191.3 L506.4 190.5 L508.8 189.7 L511.1 188.9 L513.5 188.1 L515.8 187.3 L518.2 186.6 L520.6 185.8 L522.9 185.1 L525.3 184.3 L527.6 183.6 L530.0 182.9 L532.4 182.2 L534.7 181.5 L537.1 180.8 L539.5 180.1 L541.8 179.4 L544.2 178.7 L546.5 178.1 L548.9 177.4 L551.3 176.8 L553.6 176.1 L556.0 175.5 L558.3 174.8 L560.7 174.2 L563.1 173.6 L565.4 173.0 L567.8 172.4 L570.1 171.8 L572.5 171.2 L574.9 170.6 L577.2 170.0 L579.6 169.4 L581.9 168.9 L584.3 168.3 L586.7 167.7 L589.0 167.1 L591.4 166.6 L593.7 166.0 L596.1 165.5 L598.5 164.9 L600.8 164.4 L603.2 163.8 L605.5 163.3 L607.9 162.8 L610.3 162.2 L612.6 161.7 L615.0 161.2 L617.3 160.6 L619.7 160.1 L622.1 159.6 L624.4 159.1 L626.8 158.5 L629.2 158.0 L631.5 157.5 L633.9 157.0 L636.2 156.4 L638.6 155.9 L641.0 155.4 L643.3 154.9 L645.7 154.4 L648.0 153.8 L650.4 153.3 L652.8 152.8 L655.1 152.3 L657.5 151.7 L659.8 151.2 L662.2 150.7 L664.6 150.1 L666.9 149.6 L669.3 149.1 L671.6 148.5 L674.0 148.0 L676.4 147.4 L678.7 146.9 L681.1 146.3 L683.4 145.8 L685.8 145.2 L688.2 144.6 L690.5 144.1 L692.9 143.5 L695.2 142.9 L697.6 142.3 L700.0 141.8 L702.3 141.2 L704.7 140.6 L707.0 140.0 L709.4 139.4 L711.8 138.7 L714.1 138.1 L716.5 137.5 L718.9 136.9 L721.2 136.2 L723.6 135.6 L725.9 134.9 L728.3 134.3 L730.7 133.6 L733.0 132.9 L735.4 132.2 L737.7 131.6 L740.1 130.9 L742.5 130.1 L744.8 129.4 L747.2 128.7 L749.5 128.0 L751.9 127.2 L754.3 126.5 L756.6 125.7 L759.0 125.0 L761.3 124.2 L763.7 123.4" fill="none" stroke="#6e6e6e" stroke-width="1.1" stroke-dasharray="2.3 2.6"/>
<path d="M432.6 237.9 L433.7 237.4 L434.8 236.8 L435.9 236.2 L437.0 235.6 L438.1 234.9 L439.2 234.2 L440.4 233.5 L441.5 232.8 L442.6 232.0 L443.7 231.3 L444.8 230.5 L445.9 229.7 L447.0 228.8 L448.1 228.0 L449.2 227.1 L450.3 226.2 L451.4 225.4 L452.5 224.5 L453.6 223.5 L454.7 222.6 L455.9 221.7 L457.0 220.8 L458.1 219.8 L459.2 218.9 L460.3 217.9 L461.4 217.0 L462.5 216.0 L463.6 215.1 L464.7 214.1 L465.8 213.1 L466.9 212.2 L468.0 211.2 L469.1 210.3 L470.3 209.4 L471.4 208.4 L472.5 207.5 L473.6 206.6 L474.7 205.7 L475.8 204.8 L476.9 203.9 L478.0 203.0 L479.1 202.1 L480.2 201.3 L481.3 200.4 L482.4 199.6 L483.5 198.8 L484.6 198.0 L485.8 197.2 L486.9 196.4 L488.0 195.6 L489.1 194.9 L490.2 194.1 L491.3 193.4 L492.4 192.7 L493.5 192.1 L494.6 191.4 L495.7 190.7 L496.8 190.1 L497.9 189.5 L499.0 188.9 L500.1 188.3 L501.3 187.8 L502.4 187.2 L503.5 186.7 L504.6 186.2 L505.7 185.6 L506.8 185.1 L507.9 184.6 L509.0 184.2 L510.1 183.7 L511.2 183.2 L512.3 182.7 L513.4 182.3 L514.5 181.8 L515.7 181.4 L516.8 181.0 L517.9 180.5 L519.0 180.1 L520.1 179.7 L521.2 179.2 L522.3 178.8 L523.4 178.4 L524.5 178.0 L525.6 177.6 L526.7 177.1 L527.8 176.7 L528.9 176.3 L530.0 175.9 L531.2 175.5 L532.3 175.1 L533.4 174.7 L534.5 174.3 L535.6 173.9 L536.7 173.4 L537.8 173.0 L538.9 172.6 L540.0 172.2 L541.1 171.8 L542.2 171.4 L543.3 171.0 L544.4 170.7 L545.6 170.3 L546.7 169.9 L547.8 169.5 L548.9 169.1 L550.0 168.7 L551.1 168.3 L552.2 167.9 L553.3 167.5 L554.4 167.1 L555.5 166.8 L556.6 166.4 L557.7 166.0 L558.8 165.6 L559.9 165.2 L561.1 164.8 L562.2 164.5 L563.3 164.1 L564.4 163.7 L565.5 163.3 L566.6 162.9 L567.7 162.5 L568.8 162.2 L569.9 161.8 L571.0 161.4 L572.1 161.0 L573.2 160.7 L574.3 160.3 L575.4 159.9 L576.6 159.5 L577.7 159.1 L578.8 158.8 L579.9 158.4 L581.0 158.0 L582.1 157.6 L583.2 157.2 L584.3 156.9 L585.4 156.5 L586.5 156.1 L587.6 155.7 L588.7 155.3 L589.8 155.0 L591.0 154.6 L592.1 154.2 L593.2 153.8 L594.3 153.4 L595.4 153.1 L596.5 152.7 L597.6 152.3 L598.7 151.9 L599.8 151.5 L600.9 151.1 L602.0 150.7 L603.1 150.4 L604.2 150.0 L605.3 149.6 L606.5 149.2 L607.6 148.8 L608.7 148.4 L609.8 148.0 L610.9 147.6 L612.0 147.2 L613.1 146.8 L614.2 146.4 L615.3 146.0 L616.4 145.6 L617.5 145.2 L618.6 144.8 L619.7 144.4 L620.9 144.0 L622.0 143.6 L623.1 143.2 L624.2 142.8 L625.3 142.4 L626.4 142.0 L627.5 141.6 L628.6 141.1 L629.7 140.7 L630.8 140.3 L631.9 139.9 L633.0 139.5 L634.1 139.0 L635.2 138.6 L636.4 138.2 L637.5 137.8 L638.6 137.3 L639.7 136.9 L640.8 136.5 L641.9 136.0 L643.0 135.6 L644.1 135.1 L645.2 134.7 L646.3 134.2 L647.4 133.8 L648.5 133.4 L649.6 132.9 L650.7 132.5 L651.9 132.0 L653.0 131.5 L654.1 131.1 L655.2 130.6 L656.3 130.2 L657.4 129.7 L658.5 129.2 L659.6 128.8 L660.7 128.3 L661.8 127.8 L662.9 127.4 L664.0 126.9 L665.1 126.4 L666.3 126.0 L667.4 125.5 L668.5 125.0 L669.6 124.5 L670.7 124.0 L671.8 123.6 L672.9 123.1 L674.0 122.6 L675.1 122.1 L676.2 121.6 L677.3 121.1 L678.4 120.6 L679.5 120.2 L680.6 119.7 L681.8 119.2 L682.9 118.7 L684.0 118.2 L685.1 117.7 L686.2 117.2 L687.3 116.7 L688.4 116.2 L689.5 115.7 L690.6 115.2 L691.7 114.7 L692.8 114.2 L693.9 113.7 L695.0 113.1 L696.2 112.6 L697.3 112.1 L698.4 111.6 L699.5 111.1 L700.6 110.6 L701.7 110.1 L702.8 109.6 L703.9 109.0 L705.0 108.5 L706.1 108.0 L707.2 107.5 L708.3 107.0 L709.4 106.4 L710.5 105.9 L711.7 105.4 L712.8 104.9 L713.9 104.3 L715.0 103.8 L716.1 103.3 L717.2 102.7 L718.3 102.2 L719.4 101.7 L720.5 101.2 L721.6 100.6 L722.7 100.1 L723.8 99.5 L724.9 99.0 L726.0 98.5 L727.2 97.9 L728.3 97.4 L729.4 96.9 L730.5 96.3 L731.6 95.8 L732.7 95.2 L733.8 94.7 L734.9 94.2 L736.0 93.6 L737.1 93.1 L738.2 92.5 L739.3 92.0 L740.4 91.4 L741.6 90.9 L742.7 90.3 L743.8 89.8 L744.9 89.3 L746.0 88.7 L747.1 88.2 L748.2 87.6 L749.3 87.1 L750.4 86.5 L751.5 86.0 L752.6 85.4 L753.7 84.9 L754.8 84.3 L755.9 83.7 L757.1 83.2 L758.2 82.6 L759.3 82.1 L760.4 81.5 L761.5 81.0 L762.6 80.4 L763.7 79.9" fill="none" stroke="#6c6c6c" stroke-width="2.0" stroke-linejoin="round"/>
<line x1="430.0" y1="22" x2="430.0" y2="259" stroke="#cbccd0" stroke-width="1"/>
<line x1="429.5" y1="258.5" x2="767.5" y2="258.5" stroke="#cbccd0" stroke-width="1"/>
<line x1="432.30" y1="259" x2="432.30" y2="261.5" stroke="#cbccd0" stroke-width="1"/>
<text transform="translate(432.30,271.8) scale(0.865,1)" text-anchor="middle" class="tk">4</text>
<line x1="446.74" y1="259" x2="446.74" y2="261.5" stroke="#cbccd0" stroke-width="1"/>
<text transform="translate(446.74,271.8) scale(0.865,1)" text-anchor="middle" class="tk">6</text>
<line x1="461.19" y1="259" x2="461.19" y2="261.5" stroke="#cbccd0" stroke-width="1"/>
<text transform="translate(461.19,271.8) scale(0.865,1)" text-anchor="middle" class="tk">8</text>
<line x1="475.63" y1="259" x2="475.63" y2="261.5" stroke="#cbccd0" stroke-width="1"/>
<text transform="translate(475.63,271.8) scale(0.865,1)" text-anchor="middle" class="tk">10</text>
<line x1="490.08" y1="259" x2="490.08" y2="261.5" stroke="#cbccd0" stroke-width="1"/>
<text transform="translate(490.08,271.8) scale(0.865,1)" text-anchor="middle" class="tk">12</text>
<line x1="504.52" y1="259" x2="504.52" y2="261.5" stroke="#cbccd0" stroke-width="1"/>
<text transform="translate(504.52,271.8) scale(0.865,1)" text-anchor="middle" class="tk">14</text>
<line x1="518.96" y1="259" x2="518.96" y2="261.5" stroke="#cbccd0" stroke-width="1"/>
<text transform="translate(518.96,271.8) scale(0.865,1)" text-anchor="middle" class="tk">16</text>
<line x1="533.41" y1="259" x2="533.41" y2="261.5" stroke="#cbccd0" stroke-width="1"/>
<text transform="translate(533.41,271.8) scale(0.865,1)" text-anchor="middle" class="tk">18</text>
<line x1="547.85" y1="259" x2="547.85" y2="261.5" stroke="#cbccd0" stroke-width="1"/>
<text transform="translate(547.85,271.8) scale(0.865,1)" text-anchor="middle" class="tk">20</text>
<line x1="562.30" y1="259" x2="562.30" y2="261.5" stroke="#cbccd0" stroke-width="1"/>
<text transform="translate(562.30,271.8) scale(0.865,1)" text-anchor="middle" class="tk">22</text>
<line x1="576.74" y1="259" x2="576.74" y2="261.5" stroke="#cbccd0" stroke-width="1"/>
<text transform="translate(576.74,271.8) scale(0.865,1)" text-anchor="middle" class="tk">24</text>
<line x1="591.18" y1="259" x2="591.18" y2="261.5" stroke="#cbccd0" stroke-width="1"/>
<text transform="translate(591.18,271.8) scale(0.865,1)" text-anchor="middle" class="tk">26</text>
<line x1="605.63" y1="259" x2="605.63" y2="261.5" stroke="#cbccd0" stroke-width="1"/>
<text transform="translate(605.63,271.8) scale(0.865,1)" text-anchor="middle" class="tk">28</text>
<line x1="620.07" y1="259" x2="620.07" y2="261.5" stroke="#cbccd0" stroke-width="1"/>
<text transform="translate(620.07,271.8) scale(0.865,1)" text-anchor="middle" class="tk">30</text>
<line x1="634.52" y1="259" x2="634.52" y2="261.5" stroke="#cbccd0" stroke-width="1"/>
<text transform="translate(634.52,271.8) scale(0.865,1)" text-anchor="middle" class="tk">32</text>
<line x1="648.96" y1="259" x2="648.96" y2="261.5" stroke="#cbccd0" stroke-width="1"/>
<text transform="translate(648.96,271.8) scale(0.865,1)" text-anchor="middle" class="tk">34</text>
<line x1="663.40" y1="259" x2="663.40" y2="261.5" stroke="#cbccd0" stroke-width="1"/>
<text transform="translate(663.40,271.8) scale(0.865,1)" text-anchor="middle" class="tk">36</text>
<line x1="677.85" y1="259" x2="677.85" y2="261.5" stroke="#cbccd0" stroke-width="1"/>
<text transform="translate(677.85,271.8) scale(0.865,1)" text-anchor="middle" class="tk">38</text>
<line x1="692.29" y1="259" x2="692.29" y2="261.5" stroke="#cbccd0" stroke-width="1"/>
<text transform="translate(692.29,271.8) scale(0.865,1)" text-anchor="middle" class="tk">40</text>
<line x1="706.74" y1="259" x2="706.74" y2="261.5" stroke="#cbccd0" stroke-width="1"/>
<text transform="translate(706.74,271.8) scale(0.865,1)" text-anchor="middle" class="tk">42</text>
<line x1="721.18" y1="259" x2="721.18" y2="261.5" stroke="#cbccd0" stroke-width="1"/>
<text transform="translate(721.18,271.8) scale(0.865,1)" text-anchor="middle" class="tk">44</text>
<line x1="735.62" y1="259" x2="735.62" y2="261.5" stroke="#cbccd0" stroke-width="1"/>
<text transform="translate(735.62,271.8) scale(0.865,1)" text-anchor="middle" class="tk">46</text>
<line x1="750.07" y1="259" x2="750.07" y2="261.5" stroke="#cbccd0" stroke-width="1"/>
<text transform="translate(750.07,271.8) scale(0.865,1)" text-anchor="middle" class="tk">48</text>
<line x1="764.51" y1="259" x2="764.51" y2="261.5" stroke="#cbccd0" stroke-width="1"/>
<text transform="translate(764.51,271.8) scale(0.865,1)" text-anchor="middle" class="tk">50</text>
<line x1="426.5" y1="255.10" x2="429.5" y2="255.10" stroke="#cbccd0" stroke-width="1"/>
<text transform="translate(423.5,257.80) scale(0.865,1)" text-anchor="end" class="tk">0.5</text>
<line x1="426.5" y1="199.50" x2="429.5" y2="199.50" stroke="#cbccd0" stroke-width="1"/>
<text transform="translate(423.5,202.20) scale(0.865,1)" text-anchor="end" class="tk">1.0</text>
<line x1="426.5" y1="143.90" x2="429.5" y2="143.90" stroke="#cbccd0" stroke-width="1"/>
<text transform="translate(423.5,146.60) scale(0.865,1)" text-anchor="end" class="tk">1.5</text>
<line x1="426.5" y1="88.30" x2="429.5" y2="88.30" stroke="#cbccd0" stroke-width="1"/>
<text transform="translate(423.5,91.00) scale(0.865,1)" text-anchor="end" class="tk">2.0</text>
<line x1="426.5" y1="32.70" x2="429.5" y2="32.70" stroke="#cbccd0" stroke-width="1"/>
<text transform="translate(423.5,35.40) scale(0.865,1)" text-anchor="end" class="tk">2.5</text>
<text transform="translate(211,16) scale(0.95,1)" text-anchor="middle" class="ti">All-cause mortality - Men</text>
<text transform="translate(598.7,16) scale(0.95,1)" text-anchor="middle" class="ti">All-cause mortality - Women</text>
<text transform="translate(210.8,285.3) scale(0.95,1)" text-anchor="middle" class="xl">Five chair rises (sec)</text>
<text transform="translate(598.3,285.3) scale(0.95,1)" text-anchor="middle" class="xl">Five chair rises (sec)</text>
<text transform="translate(15.2,140.2) rotate(-90)" text-anchor="middle" class="xl yl">Hazard ratio</text>
<text transform="translate(402.6,140.2) rotate(-90)" text-anchor="middle" class="xl yl">Hazard ratio</text>
</svg></div>
</body></html>
